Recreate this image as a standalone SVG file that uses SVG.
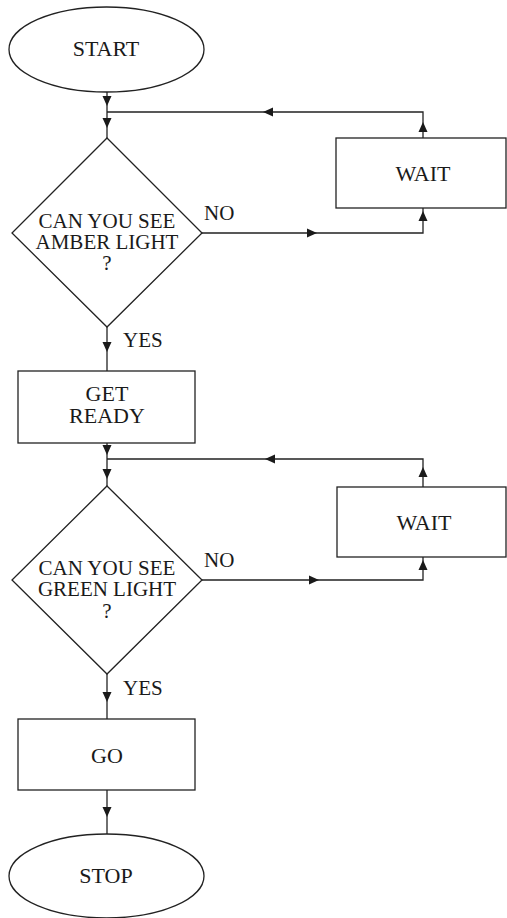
<svg xmlns="http://www.w3.org/2000/svg" xmlns:xlink="http://www.w3.org/1999/xlink" width="507" height="918" viewBox="0 0 507 918">
  <style>
    .shape { fill: #fff; stroke: #222; stroke-width: 1.3; }
    .conn { fill: none; stroke: #222; stroke-width: 1.3; }
    .head { fill: #1a1a1a; stroke: none; }
    text { font-family: "Liberation Serif", "Times New Roman", serif; font-size: 21px; fill: #1a1a1a; text-anchor: middle; }
    .box { font-size: 22px; }
    .lbl { text-anchor: start; }
  </style>
  <defs>
    <!-- arrowhead pointing down, tip at origin -->
    <path id="ah" class="head" d="M0,0 L-4.5,-10 L4.5,-10 Z"/>
  </defs>
  <rect width="507" height="918" fill="#fff"/>

  <g id="connectors">
    <path class="conn" d="M107,92 V138"/>
    <path class="conn" d="M107,112 H423 V138"/>
    <path class="conn" d="M202,233 H423 V208"/>
    <path class="conn" d="M107,327 V371"/>
    <path class="conn" d="M107,443 V486"/>
    <path class="conn" d="M107,459 H423 V487"/>
    <path class="conn" d="M202,580 H423 V557"/>
    <path class="conn" d="M107,674 V719"/>
    <path class="conn" d="M107,790 V834"/>

    <use xlink:href="#ah" transform="translate(107,106)"/>
    <use xlink:href="#ah" transform="translate(107,128)"/>
    <use xlink:href="#ah" transform="translate(263,112) rotate(90)"/>
    <use xlink:href="#ah" transform="translate(423,122) rotate(180)"/>
    <use xlink:href="#ah" transform="translate(317,233) rotate(-90)"/>
    <use xlink:href="#ah" transform="translate(423,211) rotate(180)"/>
    <use xlink:href="#ah" transform="translate(107,352)"/>
    <use xlink:href="#ah" transform="translate(107,455)"/>
    <use xlink:href="#ah" transform="translate(107,479)"/>
    <use xlink:href="#ah" transform="translate(265,459) rotate(90)"/>
    <use xlink:href="#ah" transform="translate(423,467) rotate(180)"/>
    <use xlink:href="#ah" transform="translate(319,580) rotate(-90)"/>
    <use xlink:href="#ah" transform="translate(423,560) rotate(180)"/>
    <use xlink:href="#ah" transform="translate(107,702)"/>
    <use xlink:href="#ah" transform="translate(107,817)"/>

    <text class="lbl" x="204" y="220">NO</text>
    <text class="lbl" x="123" y="347">YES</text>
    <text class="lbl" x="204" y="567">NO</text>
    <text class="lbl" x="123" y="695">YES</text>
  </g>

  <g id="start">
    <ellipse class="shape" cx="106.5" cy="49.5" rx="97.5" ry="42.5"/>
    <text class="box" x="106" y="56">START</text>
  </g>

  <g id="amber-check">
    <polygon class="shape" points="107,138 202,233 107,327 12,233"/>
    <text x="107" y="228">CAN YOU SEE</text>
    <text x="107" y="249">AMBER LIGHT</text>
    <text x="107" y="270">?</text>
  </g>

  <g id="wait-amber">
    <rect class="shape" x="336" y="138" width="170" height="70"/>
    <text class="box" x="423" y="181">WAIT</text>
  </g>

  <g id="get-ready">
    <rect class="shape" x="18" y="371" width="177" height="72"/>
    <text class="box" x="107" y="401">GET</text>
    <text class="box" x="107" y="423">READY</text>
  </g>

  <g id="green-check">
    <polygon class="shape" points="107,486 202,580 107,674 12,580"/>
    <text x="107" y="575">CAN YOU SEE</text>
    <text x="107" y="596">GREEN LIGHT</text>
    <text x="107" y="618">?</text>
  </g>

  <g id="wait-green">
    <rect class="shape" x="337" y="487" width="169" height="70"/>
    <text class="box" x="424" y="530">WAIT</text>
  </g>

  <g id="go">
    <rect class="shape" x="18" y="719" width="177" height="71"/>
    <text class="box" x="107" y="763">GO</text>
  </g>

  <g id="stop">
    <ellipse class="shape" cx="106.5" cy="876" rx="97.5" ry="42"/>
    <text class="box" x="106" y="883">STOP</text>
  </g>
</svg>
